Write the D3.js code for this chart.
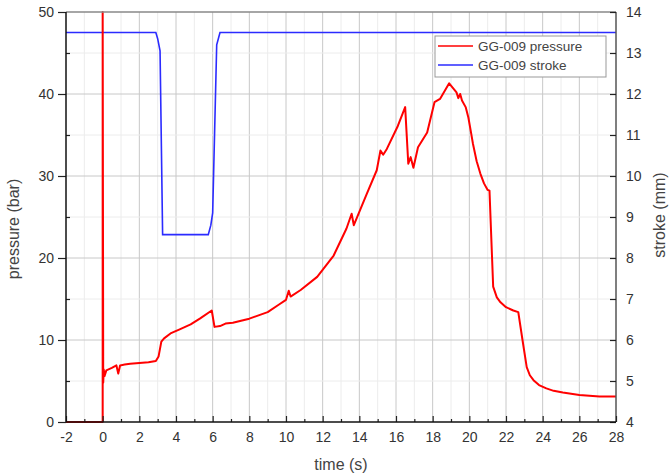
<!DOCTYPE html>
<html>
<head>
<meta charset="utf-8">
<script src="https://cdn.jsdelivr.net/npm/d3@7"></script>
<style>
  body { margin: 0; background: #fff; }
  svg { font-family: "Liberation Sans", Arial, sans-serif; }
  .axis text { fill: #333; font-size: 14px; }
  .axis .domain { display: none; }
</style>
</head>
<body>
<div id="chart"></div>
<script>
// pressure trace (time in s, pressure in bar)
var pressureTime = [-2, 0, 0, 0.03, 0.06, 0.1, 0.2, 0.5, 0.75, 0.85, 0.95, 1.2, 1.5, 2.0, 2.5, 2.9,
    3.05, 3.2, 3.35, 3.7, 4.2, 4.8, 5.3, 5.95, 6.1, 6.4, 6.7, 7.1, 8.0, 9.0, 9.6, 10.0, 10.15, 10.25,
    10.8, 11.7, 12.6, 13.3, 13.58, 13.7, 14.4, 14.95, 15.15, 15.3, 15.5, 16.1, 16.5, 16.67, 16.8, 16.95,
    17.2, 17.7, 18.1, 18.4, 18.9, 19.3, 19.4, 19.5, 19.6, 19.8, 19.95, 20.1, 20.2, 20.4, 20.6, 20.8, 21.0,
    21.1, 21.3, 21.5, 21.7, 22.0, 22.4, 22.67, 22.9, 23.13, 23.3, 23.5, 23.8, 24.2, 24.6, 25.1, 26.0, 27.1, 28];
var pressureVal = [0, 0, 50, 4.8, 6.4, 5.6, 6.3, 6.6, 6.9, 5.9, 6.9, 7.0, 7.1, 7.2, 7.3, 7.45,
    8.0, 9.8, 10.2, 10.8, 11.3, 11.9, 12.6, 13.6, 11.6, 11.7, 12.0, 12.1, 12.6, 13.4, 14.3, 14.9, 16.0, 15.3,
    16.1, 17.7, 20.3, 23.6, 25.4, 24.0, 27.8, 30.7, 33.1, 32.6, 33.3, 36.1, 38.4, 31.5, 32.3, 31.0,
    33.5, 35.3, 39.0, 39.4, 41.3, 40.2, 39.5, 40.0, 39.2, 38.4, 37.1, 35.2, 33.9, 31.8, 30.3, 29.1, 28.3,
    28.2, 16.5, 15.2, 14.6, 14.0, 13.6, 13.4, 10.0, 6.7, 5.7, 5.1, 4.5, 4.1, 3.8, 3.6, 3.3, 3.1, 3.1];

// valve stroke (time in s, stroke in mm)
var strokeTime = [-2, 2.9, 3.0, 3.13, 3.27, 5.76, 5.9, 6.0, 6.22, 6.4, 28];
var strokeVal = [13.5, 13.5, 13.35, 13.05, 8.57, 8.57, 8.8, 9.1, 13.2, 13.5, 13.5];

var timeTicks = [-2, 0, 2, 4, 6, 8, 10, 12, 14, 16, 18, 20, 22, 24, 26, 28];
var pressureTicks = [0, 10, 20, 30, 40, 50];
var strokeTicks = [4, 5, 6, 7, 8, 9, 10, 11, 12, 13, 14];

var seriesNames = ["GG-009 pressure", "GG-009 stroke"];
var seriesColors = ["#ff0000", "#2b2bff"];

var margin = {top: 12, right: 55, bottom: 52, left: 66},
    width = 550,
    height = 410;

// plain hyphen for negatives, like the original
var plainFormat = function(d) { return String(d); };

var svg = d3.select("#chart").append("svg")
    .attr("width", 671)
    .attr("height", 474)
    .append("g")
    .attr("transform", "translate(" + margin.left + "," + margin.top + ")");

var x = d3.scaleLinear().domain([-2, 28]).range([0, width]);
var y = d3.scaleLinear().domain([0, 50]).range([height, 0]);
var y2 = d3.scaleLinear().domain([4, 14]).range([height, 0]);

// grid
var grid = svg.append("g").attr("class", "grid");
d3.range(-1, 28).forEach(function(t) {
    grid.append("line")
        .attr("x1", x(t)).attr("x2", x(t))
        .attr("y1", 0).attr("y2", height)
        .attr("stroke", t % 2 === 0 ? "#c8c8c8" : "#ececec")
        .attr("stroke-width", 1);
});
d3.range(5, 50, 5).forEach(function(p) {
    grid.append("line")
        .attr("x1", 0).attr("x2", width)
        .attr("y1", y(p)).attr("y2", y(p))
        .attr("stroke", p % 10 === 0 ? "#c8c8c8" : "#ececec")
        .attr("stroke-width", 1);
});

var pressureData = pressureTime.map(function(t, i) { return {t: t, v: pressureVal[i]}; });
var strokeData = strokeTime.map(function(t, i) { return {t: t, v: strokeVal[i]}; });

var pLine = d3.line()
    .x(function(d) { return x(d.t); })
    .y(function(d) { return y(d.v); });

var sLine = d3.line()
    .x(function(d) { return x(d.t); })
    .y(function(d) { return y2(d.v); });

svg.append("path")
    .datum(strokeData)
    .attr("fill", "none")
    .attr("stroke", seriesColors[1])
    .attr("stroke-width", 1.6)
    .attr("d", sLine);

svg.append("path")
    .datum(pressureData)
    .attr("fill", "none")
    .attr("stroke", seriesColors[0])
    .attr("stroke-width", 2)
    .attr("stroke-linejoin", "round")
    .attr("d", pLine);

// frame: top and right grey, left and bottom black
svg.append("line").attr("x1", 0).attr("x2", width).attr("y1", 0).attr("y2", 0)
    .attr("stroke", "#888").attr("stroke-width", 1.5);
svg.append("line").attr("x1", width).attr("x2", width).attr("y1", 0).attr("y2", height)
    .attr("stroke", "#555").attr("stroke-width", 1.5);

// axes
svg.append("g")
    .attr("class", "x axis")
    .attr("transform", "translate(0," + height + ")")
    .call(d3.axisBottom(x).tickValues(timeTicks).tickSize(-6).tickPadding(10).tickFormat(plainFormat));
svg.append("g")
    .attr("class", "x axis minor")
    .attr("transform", "translate(0," + height + ")")
    .call(d3.axisBottom(x).tickValues(d3.range(-1, 28, 2)).tickSize(-3).tickFormat(""));

svg.append("g")
    .attr("class", "y axis")
    .call(d3.axisLeft(y).tickValues(pressureTicks).tickSize(8).tickPadding(4).tickFormat(plainFormat));
svg.append("g")
    .attr("class", "y axis minor")
    .call(d3.axisLeft(y).tickValues(d3.range(5, 50, 10)).tickSize(-4).tickFormat(""));

svg.append("g")
    .attr("class", "y2 axis")
    .attr("transform", "translate(" + width + ",0)")
    .call(d3.axisRight(y2).tickValues(strokeTicks).tickSize(-6).tickPadding(10).tickFormat(plainFormat));

svg.selectAll(".axis .tick line").attr("stroke", "#222").attr("stroke-width", 1.2);

svg.append("line").attr("x1", 0).attr("x2", 0).attr("y1", 0).attr("y2", height)
    .attr("stroke", "#111").attr("stroke-width", 1.5);
svg.append("line").attr("x1", 0).attr("x2", width).attr("y1", height).attr("y2", height)
    .attr("stroke", "#111").attr("stroke-width", 1.5);

// axis titles
svg.append("text")
    .attr("transform", "translate(" + (19 - margin.left) + "," + 217 + ") rotate(-90)")
    .attr("text-anchor", "middle")
    .attr("fill", "#444")
    .style("font-size", "16px")
    .text("pressure (bar)");

svg.append("text")
    .attr("transform", "translate(" + (665 - margin.left) + "," + 203 + ") rotate(-90)")
    .attr("text-anchor", "middle")
    .attr("fill", "#444")
    .style("font-size", "16px")
    .text("stroke (mm)");

svg.append("text")
    .attr("x", width / 2)
    .attr("y", 470 - margin.top)
    .attr("text-anchor", "middle")
    .attr("fill", "#444")
    .style("font-size", "16px")
    .text("time (s)");

// legend
var legend = svg.append("g")
    .attr("transform", "translate(" + (435 - margin.left) + "," + (36 - margin.top) + ")");
legend.append("rect")
    .attr("width", 171).attr("height", 41)
    .attr("fill", "#fff").attr("stroke", "#999").attr("stroke-width", 1);
seriesNames.forEach(function(name, i) {
    legend.append("line")
        .attr("x1", 3).attr("x2", 38)
        .attr("y1", 10 + i * 19).attr("y2", 10 + i * 19)
        .attr("stroke", seriesColors[i]).attr("stroke-width", 1.6);
    legend.append("text")
        .attr("x", 43).attr("y", 15 + i * 19)
        .attr("fill", "#444")
        .style("font-size", "13.5px")
        .text(name);
});
</script>
</body>
</html>
